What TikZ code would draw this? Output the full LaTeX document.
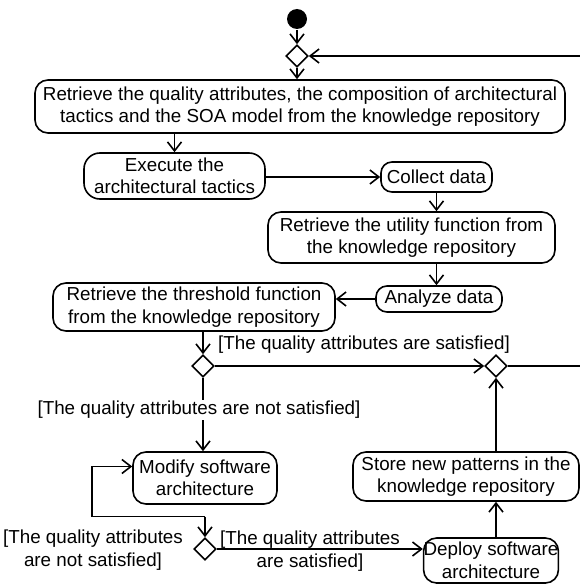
\documentclass[tikz,border=0pt]{standalone}
\usepackage{fontspec}
\setmainfont{Liberation Sans}
\usetikzlibrary{shapes.geometric,arrows.meta}
\begin{document}
\begin{tikzpicture}[x=1pt,y=-1pt,line width=1.6pt,
  txt/.style={font=\fontsize{18.8}{22.5}\selectfont},
  act/.style={draw,rounded corners=13pt,align=center,inner sep=0pt,txt},
  smallact/.style={draw,rounded corners=11pt,align=center,inner sep=0pt,txt},
  dec/.style={draw,diamond,minimum width=22pt,minimum height=22pt,inner sep=0pt,shape aspect=1},
  lbl/.style={align=center,inner sep=1pt,txt},
  flow/.style={-{Straight Barb[length=9pt,width=14pt]}}]
\useasboundingbox (0,0) rectangle (580,586);
\clip (0,0) rectangle (580,586);
% nodes
\node[circle,fill,minimum size=20pt,inner sep=0pt] (start) at (297,19) {};
\node[dec] (d1) at (297,56) {};
\node[act,minimum width=530pt,minimum height=53pt] (b1) at (300,106.5)
  {Retrieve the quality attributes, the composition of architectural\\tactics and the SOA model from the knowledge repository};
\node[act,rounded corners=16pt,minimum width=181pt,minimum height=46pt] (b2) at (174.5,176)
  {Execute the\\architectural tactics};
\node[smallact,minimum width=111pt,minimum height=30pt] (collect) at (436.5,177) {Collect data};
\node[act,minimum width=287pt,minimum height=51pt] (utility) at (411.5,237.5)
  {Retrieve the utility function from\\the knowledge repository};
\node[smallact,minimum width=126pt,minimum height=26pt] (analyze) at (439,299) {Analyze data};
\node[act,minimum width=282pt,minimum height=48pt] (threshold) at (194,307)
  {Retrieve the threshold function\\from the knowledge repository};
\node[dec] (d2) at (203,366) {};
\node[dec] (d4) at (496,366) {};
\node[act,minimum width=144pt,minimum height=52pt] (modify) at (205,478)
  {Modify software\\architecture};
\node[dec] (d3) at (205,549) {};
\node[act,minimum width=226pt,minimum height=49pt] (store) at (466,476.5)
  {Store new patterns in the\\knowledge repository};
\node[act,minimum width=132pt,minimum height=45pt] (deploy) at (491,560.5)
  {Deploy software\\architecture};
% connectors
\draw[flow] (start) -- (d1);
\draw[flow] (d1.south) -- (d1.south |- b1.north);
\draw[flow] (b1.south -| b2.north) -- (b2.north);
\draw[flow] (b2.east |- collect.west) -- (collect.west);
\draw[flow] (collect.south) -- (collect.south |- utility.north);
\draw[flow] (utility.south -| collect.south) -- (analyze.north -| collect.south);
\draw[flow] (analyze.west) -- (analyze.west -| threshold.east);
\draw[flow] (threshold.south -| d2.north) -- (d2.north);
\draw[flow] (d2.east) -- (d4.west);
\node[lbl] (lsat) at (364,345) {[The quality attributes are satisfied]};
\draw[flow] (d2.south) -- (modify.north -| d2.south);
\node[lbl,fill=white] (lnot) at (199,410) {[The quality attributes are not satisfied]};
\coordinate (lc) at (205,516.5);
\coordinate (lcl) at (92,516.5);
\coordinate (lcu) at (92,466.5);
\draw[flow] (lc) -- (d3.north);
\draw[flow] (lc) -- (lcl) -- (lcu) -- (lcu -| modify.west);
\node[lbl] (lnot2) at (93,550) {[The quality attributes\\are not satisfied]};
\draw[flow] (d3.east) -- (d3.east -| deploy.west);
\node[lbl] (lsat2) at (310,551) {[The quality attributes\\are satisfied]};
\draw[flow] (deploy.north -| d4.south) -- (store.south -| d4.south);
\draw[flow] (store.north -| d4.south) -- (d4.south);
\coordinate (r1) at (592,366);
\coordinate (r2) at (592,56);
\draw[flow] (d4.east) -- (r1) -- (r2) -- (d1.east);
\end{tikzpicture}
\end{document}
